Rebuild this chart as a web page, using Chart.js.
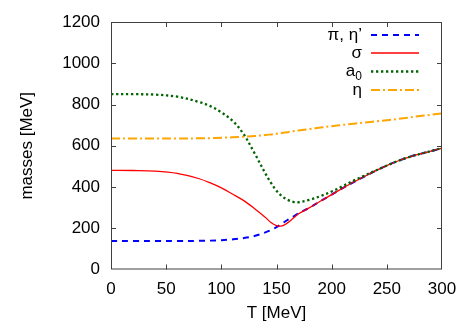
<!DOCTYPE html>
<html>
<head>
<meta charset="utf-8">
<script src="https://cdn.jsdelivr.net/npm/chart.js@4.4.1/dist/chart.umd.min.js"></script>
<style>
  html, body { margin: 0; padding: 0; background: #fff; }
  #wrap { width: 469px; height: 328px; position: relative; }
</style>
</head>
<body>
<div id="wrap"><canvas id="c" width="469" height="328"></canvas></div>
<script>
const temperatures = [0,20,40,60,80,90,100,110,120,130,140,145,150,155,160,165,170,180,190,200,210,220,230,240,250,260,270,280,290,300];
const piEtaPrime = [138,138,138,138,139,140,142,146,152,162,180,191,205,222,240,256,272,300,332,363,394,424,452,479,504,526,545,560,574,588];
const sigma      = [481,480,477,466,440,420,396,366,335,296,252,228,213,211,226,248,270,300,332,363,394,424,452,479,504,526,545,560,574,588];
const a0         = [850,850,848,838,812,792,762,722,658,565,465,420,382,355,338,328,326,338,356,378,404,431,456,480,504,526,545,560,574,589];
const eta        = [635,635,635,635,636,637,639,641,644,647,652,655,658,662,666,670,674,681,688,695,701,707,713,718,724,730,737,744,750,757];
const seriesNames = ["π, η’", "σ", "a0", "η"];
const xTicks = [0,50,100,150,200,250,300];
const yTicks = [0,200,400,600,800,1000,1200];

const FONT = "'Liberation Sans', Arial, Helvetica, sans-serif";
const toPts = arr => arr.map((v, i) => ({x: temperatures[i], y: v}));

const styles = [
  {color: '#0000ff', width: 2, dash: [6, 5], order: 4},
  {color: '#ff0000', width: 1.3, dash: [], order: 3},
  {color: '#006400', width: 2.3, dash: [2.3, 2.7], order: 2},
  {color: '#ffa500', width: 2, dash: [9, 3, 2, 3], order: 1}
];
const allSeries = [piEtaPrime, sigma, a0, eta];

const datasets = allSeries.map((s, i) => ({
  label: seriesNames[i],
  data: toPts(s),
  borderColor: styles[i].color,
  borderWidth: styles[i].width,
  borderDash: styles[i].dash,
  borderCapStyle: 'butt',
  pointRadius: 0,
  fill: false,
  tension: 0.35,
  order: styles[i].order
}));

const frame = {
  id: 'frame',
  afterDatasetsDraw(chart) {
    const {ctx, chartArea: a, scales} = chart;
    ctx.save();
    ctx.strokeStyle = '#404040';
    ctx.lineWidth = 1;
    ctx.setLineDash([]);
    ctx.strokeRect(a.left + 0.5, a.top + 0.5, a.right - a.left - 1, a.bottom - a.top - 1);
    const L = 5;
    ctx.beginPath();
    xTicks.forEach(v => {
      const x = Math.round(scales.x.getPixelForValue(v)) + 0.5;
      if (v !== 0 && v !== 300) {
        ctx.moveTo(x, a.bottom); ctx.lineTo(x, a.bottom - L);
        ctx.moveTo(x, a.top); ctx.lineTo(x, a.top + L);
      }
    });
    yTicks.forEach(v => {
      const y = Math.round(scales.y.getPixelForValue(v)) + 0.5;
      if (v !== 0 && v !== 1200) {
        ctx.moveTo(a.left, y); ctx.lineTo(a.left + L, y);
        ctx.moveTo(a.right, y); ctx.lineTo(a.right - L, y);
      }
    });
    ctx.stroke();

    // legend
    const textRight = 362, x0 = 371, x1 = 419;
    const ys = [35, 53, 71.5, 90];
    ctx.fillStyle = '#000';
    ctx.textBaseline = 'middle';
    ctx.textAlign = 'right';
    ys.forEach((y, i) => {
      ctx.font = '17px ' + FONT;
      if (seriesNames[i] === 'a0') {
        ctx.textAlign = 'left';
        const wa = ctx.measureText('a').width;
        ctx.font = '12px ' + FONT;
        const w0 = ctx.measureText('0').width;
        ctx.font = '17px ' + FONT;
        ctx.fillText('a', textRight - wa - w0, y);
        ctx.font = '12px ' + FONT;
        ctx.fillText('0', textRight - w0, y + 5);
        ctx.textAlign = 'right';
      } else {
        ctx.fillText(seriesNames[i], textRight, y);
      }
      ctx.beginPath();
      ctx.strokeStyle = styles[i].color;
      ctx.lineWidth = styles[i].width;
      ctx.setLineDash(styles[i].dash);
      ctx.lineCap = 'butt';
      ctx.moveTo(x0, y); ctx.lineTo(x1, y);
      ctx.stroke();
    });
    ctx.restore();
  }
};

new Chart(document.getElementById('c'), {
  type: 'line',
  data: {datasets},
  options: {
    responsive: false,
    animation: false,
    devicePixelRatio: 1,
    layout: {padding: {left: 0, right: 27, top: 22, bottom: 0}},
    plugins: {legend: {display: false}, tooltip: {enabled: false}},
    scales: {
      x: {
        type: 'linear', min: 0, max: 300,
        afterBuildTicks: s => { s.ticks = xTicks.map(v => ({value: v})); },
        afterFit: s => { s.height = 58.5; },
        grid: {display: false, drawTicks: false},
        border: {display: false},
        ticks: {color: '#000', font: {family: FONT, size: 17}, padding: 10, maxRotation: 0, callback: v => String(v)},
        title: {display: true, text: 'T [MeV]', color: '#000', font: {family: FONT, size: 17}, padding: {top: 0, bottom: 4}}
      },
      y: {
        type: 'linear', min: 0, max: 1200,
        afterBuildTicks: s => { s.ticks = yTicks.map(v => ({value: v})); },
        afterFit: s => { s.width = 111; },
        grid: {display: false, drawTicks: false},
        border: {display: false},
        ticks: {color: '#000', font: {family: FONT, size: 17}, padding: 11, callback: v => String(v)},
        title: {display: true, text: 'masses [MeV]', color: '#000', font: {family: FONT, size: 17}, padding: {top: 17, bottom: 0}}
      }
    }
  },
  plugins: [frame]
});
</script>
</body>
</html>
